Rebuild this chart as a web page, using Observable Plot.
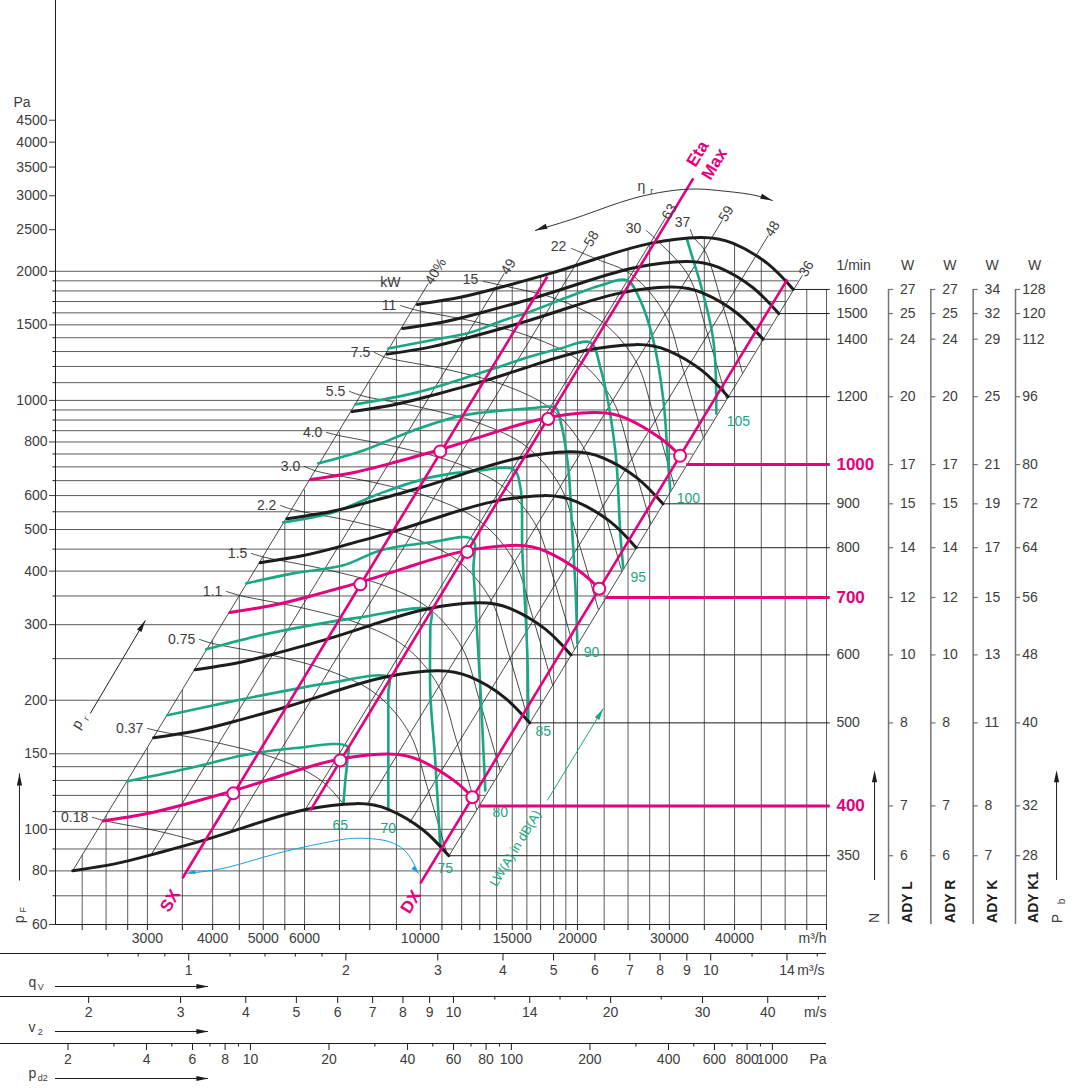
<!DOCTYPE html>
<html>
<head>
<meta charset="utf-8">
<script src="https://cdn.jsdelivr.net/npm/d3@7"></script>
<script src="https://cdn.jsdelivr.net/npm/@observablehq/plot@0.6"></script>
<style>
html,body{margin:0;padding:0;background:#fff;}
#chart{position:relative;width:1077px;height:1088px;}
#chart svg{position:absolute;left:0;top:0;overflow:visible;}
</style>
</head>
<body>
<div id="chart"></div>
<script>
// ---------------- data (flow q in m3/h, pressure p in Pa) ----------------
const hGrid = [70,80,90,100,110,120,130,140,150,200,250,300,350,400,450,500,550,600,650,700,750,800,850,900,950,1000,1100,1200,1300,1400,1500,1600,1700,1800,1900,2000];
const yTickLabels = [60,80,100,150,200,300,400,500,600,800,1000,1500,2000,2500,3000,3500,4000,4500];
const vGrid = [2250,2500,2750,3000,3500,4000,4500,5000,5500,6000,7000,8000,9000,10000,11000,12000,13000,14000,15000,16000,17000,18000,19000,20000,22500,25000,27500,30000,35000,40000,45000,50000,55000];
const xTickLabels = [3000,4000,5000,6000,8000,10000,15000,20000,30000,40000];

const fan1600 = [[9870,1674],[11930,1739],[14230,1834],[17750,1977],[22120,2154],[27580,2323],[34390,2399],[39780,2323],[46220,2086],[51830,1814]];
const fan1500 = [[9253,1471],[11184,1528],[13341,1612],[16641,1738],[20738,1893],[25856,2042],[32241,2109],[37294,2042],[43331,1833],[48591,1594]];
const fan1400 = [[8636,1282],[10439,1331],[12451,1404],[15531,1514],[19355,1649],[24133,1779],[30091,1837],[34808,1779],[40443,1597],[45351,1389]];
const fan1200 = [[7403,941.6],[8948,978.2],[10673,1031.6],[13313,1112],[16590,1212],[20685,1307],[25793,1349],[29835,1307],[34665,1173],[38873,1020]];
const fan1000 = [[6169,653.9],[7456,679.3],[8894,716.4],[11094,772.3],[13825,841.4],[17238,907.4],[21494,937.1],[24863,907.4],[28888,814.8],[31450,742.5]];
const fan900  = [[5552,529.7],[6711,550.2],[8004,580.3],[9984,625.5],[12443,681.5],[15514,735.0],[19344,759.1],[22376,735.0],[25999,660.0],[29154,574.0]];
const fan800  = [[4935,418.5],[5965,434.8],[7115,458.5],[8875,494.3],[11060,538.5],[13790,580.8],[17195,599.8],[19890,580.8],[23110,521.5],[25915,453.5]];
const fan700  = [[4318,320.4],[5219,332.9],[6226,351.0],[7766,378.4],[9678,412.3],[12066,444.6],[15046,459.2],[17404,444.6],[20221,399.3],[22015,363.8]];
const fan600  = [[3701,235.4],[4474,244.5],[5336,257.9],[6656,278.0],[8295,302.9],[10343,326.7],[12896,337.4],[14918,326.7],[17333,293.3],[19436,255.1]];
const fan500  = [[3084,163.5],[3728,169.8],[4447,179.1],[5547,193.1],[6913,210.4],[8619,226.9],[10747,234.3],[12431,226.9],[14444,203.7],[16197,177.1]];
const fan400  = [[2468,104.6],[2983,108.7],[3558,114.6],[4438,123.6],[5530,134.6],[6895,145.2],[8598,149.9],[9945,145.2],[11555,130.4],[12580,118.8]];
const fan350  = [[2159,80.1],[2610,83.2],[3113,87.8],[3883,94.6],[4839,103.1],[6033,111.2],[7523,114.8],[8702,111.2],[10111,99.8],[11338,86.8]];

const rpmList  = [1600,1500,1400,1200,1000,900,800,700,600,500,400,350];
const rpmEndQ  = [51830,48591,45351,38873,32394,29154,25915,22676,19436,16197,12958,11338];
const rpmEndP  = [1814,1594,1389,1020,708.6,574.0,453.5,347.2,255.1,177.1,113.4,86.8];
const rpmMagenta = [1000,700,400];
const adyL  = [27,25,24,20,17,15,14,12,10,8,7,6];
const adyR  = [27,25,24,20,17,15,14,12,10,8,7,6];
const adyK  = [34,32,29,25,21,19,17,15,13,11,8,7];
const adyK1 = [128,120,112,96,80,72,64,56,48,40,32,28];

const g65  = [[2746,129.4],[3674,139.5],[4581,148.8],[5710,154.5],[7247,156.1],[7247,144.8],[7183,130.1],[7120,114.4]];
const g70  = [[3276,184.4],[4268,197.7],[5323,208.6],[6634,218.9],[8683,226.1],[8683,207.5],[8683,144.8],[8683,111.9]];
const g75  = [[3890,262.8],[4937,283.3],[6157,298.9],[7675,312.0],[10450,324.0],[10450,295.8],[10450,207.5],[10680,144.8],[10920,90.8]];
const g80  = [[4642,374.5],[5710,395.1],[7120,412.5],[8381,446.9],[10450,466.7],[12580,474.3],[12640,401.5],[13030,214.3],[13320,123.3]];
const g85  = [[5464,519.5],[6723,545.3],[8381,607.1],[10450,661.5],[13030,686.9],[15080,690.7],[15550,627.0],[15680,446.9],[16030,257.2],[16100,179.6]];
const g90  = [[6374,713.2],[7777,764.6],[9696,851.1],[12090,922.7],[16240,957.9],[18140,961.3],[18540,898.2],[19200,698.1],[19550,489.8],[19820,366.6],[19990,271.4]];
const g95  = [[7507,978.8],[9868,1044],[12090,1125],[14230,1200],[16240,1266],[18540,1322],[21170,1365],[22120,1194],[23630,764.6],[24160,489.8],[24480,405.9]];
const g100 = [[8683,1322],[10450,1380],[12470,1440],[14230,1528],[16460,1621],[19120,1739],[22120,1854],[24920,1904],[26390,1711],[27950,1380],[29220,1000],[29870,698.1],[30130,616.9]];
const g105 = [[32470,2360],[33340,2120],[34390,1874],[36420,1380],[36900,932.6]];
const greenLabels = [["65",7026,102.2],["70",8683,100.5],["75",11166,81.1],["80",14230,109.6],["85",17200,169.2],["90",21270,258.5],["95",26160,386.8],["100",32620,591.0],["105",40670,893.8]];

const effLines = [["40%",2154,79.8,10360,1874],["49",3052,87.4,14480,1977],["58",4344,98.9,20890,2298],["63",6022,111.3,29460,2656],["59",7881,113.7,37880,2628],["48",9527,103.3,46420,2424],["36",11360,87.0,53930,1956]];
const magLines = [["SX",3500,76.9,17510,1945],["EtaMax",6157,110.7,33340,3292],["DX",10000,74.8,50480,1915]];
const circles = [[4383,121.3],[7675,372.5],[10920,760.5],[7026,144.8],[12300,443.4],[17565,905],[12580,118.8],[22015,363.8],[31450,742.5]];

// motor power lines (kW): leader start followed by the line itself
const kwLabels = [["0.18",2332,106.7],["0.37",2973,171.9],["0.75",3739,277.3],["1.1",4212,358.7],["1.5",4703,439.9],["2.2",5346,569.1],["3.0",5941,702.0],["4.0",6548,842.2],["5.5",7247,1050],["7.5",8091,1294],["11",9076,1665],["15",13030,1915],["22",19200,2286],["30",26740,2517],["37",33200,2599]];
const kw018 = [[2353,106.7],[2470,104.9],[3231,98.3],[4152,90.5]];
const kw037 = [[3000,171.9],[3142,169.6],[4108,158.9],[5281,146.4],[6501,129.1],[7544,104.3]];
const kw075 = [[3773,277.3],[3977,271.7],[5199,254.6],[6683,234.4],[8227,206.7],[9547,167.0],[10304,125.8],[11294,86.1]];
const kw110 = [[4250,358.7],[4518,350.7],[5908,328.7],[7593,302.6],[9347,266.8],[10846,215.5],[11706,162.3],[12828,111.1]];
const kw150 = [[4745,439.9],[5010,431.3],[6551,404.2],[8420,372.1],[10365,328.1],[12026,264.9],[12984,199.7],[14227,136.7]];
const kw220 = [[5394,569.1],[5692,556.7],[7443,521.8],[9566,480.3],[11777,423.6],[13663,342.0],[14751,257.7],[16166,176.5]];
const kw300 = [[5994,702.0],[6312,684.6],[8253,641.5],[10607,590.6],[13059,520.8],[15154,420.7],[16359,317.0],[17923,216.9]];
const kw400 = [[6607,842.2],[6947,829.4],[9084,777.2],[11676,715.6],[14372,630.8],[16680,509.7],[18005,384.0],[19732,262.9]];
const kw550 = [[7312,1050],[7725,1025.5],[10102,961.1],[12983,884.7],[15983,780.1],[18545,630.1],[20021,474.8],[21940,325.0]];
const kw750 = [[8164,1294],[8566,1261.0],[11201,1181.8],[14397,1087.9],[17723,959.2],[20566,774.9],[22199,583.7],[24329,399.7]];
const kw1100 = [[9158,1665],[9733,1627.8],[12727,1525.6],[16358,1404.5],[20136,1238.3],[23365,1000.2],[25222,753.5],[27641,515.9]];
const kw1500 = [[13205,1894],[14500,1848],[18139,1727.0],[22329,1522.6],[25913,1230.2],[27971,926.7],[30652,634.5]];
const kw2200 = [[19460,2262],[21730,2137],[25371,1965.8],[29438,1587.7],[31778,1196.2],[34825,818.9]];
const kw3000 = [[27100,2490],[28660,2337],[32645,1952.5],[35243,1471.3],[38619,1007.1]];
const kw3700 = [[32900,2503],[33410,2395],[35008,2245.4],[37795,1692.0],[41417,1158.3]];

const etaArc  = [[16610,2490],[20530,2699],[25590,2958],[31900,3103],[37070,3087],[42880,3021],[47240,2925]];
const cyanArc = [[3578,78.96],[4268,81.5],[5323,87.9],[6634,93.3],[7440,95.3],[8272,94.8],[8878,92.8],[9443,87.9],[9912,78.96]];

const qvMajor = [1,2,3,4,5,6,7,8,9,10,14];
const qvMinor = [0.7,0.8,0.9,1.2,1.4,1.6,1.8,12,16];
const v2Major = [2,3,4,5,6,7,8,9,10,14,20,30,40];
const v2Minor = [12,16,18,25,50];
const pdMajor = [2,4,6,8,10,20,40,60,80,100,200,400,600,800,1000];
const pdMinor = [3,5,7,9,30,50,70,90,300,500,700,900];

// ---------------- style ----------------
const FONT = "'Liberation Sans', Arial, Helvetica, sans-serif";
const INK="#1d1d1b", TXT="#3d3d3c", GRID="#4b4b4a", MAG="#e5007d", GRN="#19a784", CYAN="#1a9ee2", COL="#747473";
const VGRID="#4b4b4b", PWR="#1d1d1c";   // distinct strokes so the groups can be clipped
const X0=2000, X1=60000, Y0=60, Y1=8557;
const head  = {draw(c){c.moveTo(0,0);c.lineTo(2.6,12);c.lineTo(-2.6,12);c.closePath();}};
const headS = {draw(c){c.moveTo(0,0);c.lineTo(2.2,8);c.lineTo(-2.2,8);c.closePath();}};

// ---------------- tables for marks ----------------
const toRows = (key, list) => list.flatMap(([k, pts]) => pts.map(([q,p]) => ({[key]:k, q, p})));
const blackRows = toRows("n", [[1600,fan1600],[1500,fan1500],[1400,fan1400],[1200,fan1200],[900,fan900],[800,fan800],[600,fan600],[500,fan500],[350,fan350]]);
const magRows = toRows("n", [[1000,fan1000],[700,fan700],[400,fan400]]);
const greenRows = toRows("db", [[65,g65],[70,g70],[75,g75],[80,g80],[85,g85],[90,g90],[95,g95],[100,g100],[105,g105]]);
const powerRows = toRows("kw", [["0.18",kw018],["0.37",kw037],["0.75",kw075],["1.1",kw110],["1.5",kw150],["2.2",kw220],["3.0",kw300],["4.0",kw400],["5.5",kw550],["7.5",kw750],["11",kw1100],["15",kw1500],["22",kw2200],["30",kw3000],["37",kw3700]]);
const rpmRows = rpmList.map((n,i)=>({n, q:rpmEndQ[i], p:rpmEndP[i], m:rpmMagenta.includes(n)}));
const eff = effLines.map(([l,q1,p1,q2,p2])=>({l,q1,p1,q2,p2}));
const mag = magLines.map(([l,q1,p1,q2,p2])=>({l,q1,p1,q2,p2}));
const kwl = kwLabels.map(([t,q,p])=>({t,q,p}));
const A = (q,p,extra={}) => ({q,p,...extra});

const main = Plot.plot({
  width:1077, height:1088, marginLeft:55, marginRight:251, marginTop:0, marginBottom:164,
  style:{fontFamily:FONT, fontSize:"14px", background:"white"},
  x:{type:"log", domain:[X0,X1], axis:null},
  y:{type:"log", domain:[Y0,Y1], axis:null},
  marks:[
    Plot.ruleY(hGrid, {y:d=>d, x1:X0, x2:d=> d>=87 ? 11360*Math.sqrt(d/87) : X1, stroke:GRID, strokeWidth:0.9}),
    Plot.ruleX(vGrid, {x:d=>d, y1:Y0, y2:3000, stroke:VGRID, strokeWidth:0.9}),
    Plot.ruleX([X1], {y1:Y0, y2:1814, stroke:GRID, strokeWidth:0.9}),
    Plot.link(eff, {x1:"q1", y1:"p1", x2:"q2", y2:"p2", stroke:INK, strokeWidth:0.8}),
    Plot.line(powerRows, {x:"q", y:"p", z:"kw", curve:"catmull-rom", stroke:PWR, strokeWidth:0.8}),
    Plot.ruleY(rpmRows.filter(d=>!d.m), {y:"p", x1:"q", x2:61000, stroke:INK, strokeWidth:1}),
    Plot.line(greenRows, {x:"q", y:"p", z:"db", curve:"catmull-rom", stroke:GRN, strokeWidth:2.6}),
    Plot.line(blackRows, {x:"q", y:"p", z:"n", curve:"natural", stroke:INK, strokeWidth:3}),
    Plot.link(mag, {x1:"q1", y1:"p1", x2:"q2", y2:"p2", stroke:MAG, strokeWidth:2.6}),
    Plot.line(magRows, {x:"q", y:"p", z:"n", curve:"natural", stroke:MAG, strokeWidth:3}),
    Plot.ruleY(rpmRows.filter(d=>d.m), {y:"p", x1:"q", x2:61000, stroke:MAG, strokeWidth:3}),
    Plot.dot(circles.map(([q,p])=>({q,p})), {x:"q", y:"p", r:6, fill:"white", stroke:MAG, strokeWidth:2}),
    Plot.ruleX([X0], {y1:Y0, y2:Y1, stroke:INK, strokeWidth:1}),
    Plot.ruleY([Y0], {x1:X0, x2:X1, stroke:INK, strokeWidth:1}),
    Plot.axisY(yTickLabels, {tickSize:6, tickPadding:2, tickFormat:d=>String(d), fontSize:14, color:TXT}),
    Plot.axisY(hGrid.filter(d=>!yTickLabels.includes(d)), {tickSize:2.5, tickFormat:()=>"", color:INK}),
    Plot.axisX(vGrid.concat([X1]), {tickSize:6, tickFormat:()=>"", color:INK}),
    Plot.axisX(xTickLabels, {tickSize:0, tickPadding:9, tickFormat:d=>String(d), fontSize:14, color:TXT}),
    // arcs and arrows
    Plot.line(etaArc.map(([q,p])=>({q,p})), {x:"q", y:"p", curve:"natural", stroke:INK, strokeWidth:0.9}),
    Plot.line(cyanArc.map(([q,p])=>({q,p})), {x:"q", y:"p", curve:"natural", stroke:CYAN, strokeWidth:1}),
    Plot.link([A(1706,76.0,{q2:1706,p2:135.0}), A(2332,186.3,{q2:2973,p2:307.0})], {x1:"q", y1:"p", x2:"q2", y2:"p2", stroke:INK, strokeWidth:1}),
    Plot.link([A(17510,116.8,{q2:22420,p2:191.4})], {x1:"q", y1:"p", x2:"q2", y2:"p2", stroke:GRN, strokeWidth:1}),
    Plot.dot([A(1706,135.0,{r:0}), A(2973,307.0,{r:30.6}), A(16610,2490,{r:-110.6}), A(47240,2925,{r:110.6})], {x:"q", y:"p", rotate:"r", symbol:head, fill:INK, stroke:"none"}),
    Plot.dot([A(22420,191.4,{r:31.3})], {x:"q", y:"p", rotate:"r", symbol:head, fill:GRN, stroke:"none"}),
    Plot.dot([A(3578,78.96,{r:-100}), A(9912,78.96,{r:139})], {x:"q", y:"p", rotate:"r", symbol:headS, fill:CYAN, stroke:"none"}),
    // labels
    Plot.text(kwl, {x:"q", y:"p", text:"t", textAnchor:"end", dx:-2, fill:TXT, fontSize:14}),
    Plot.text([A(9156,1884)], {x:"q", y:"p", text:()=>"kW", textAnchor:"end", fill:TXT, fontSize:14}),
    Plot.text(eff, {x:"q2", y:"p2", text:"l", textAnchor:"start", rotate:-58.7, fill:TXT, fontSize:14}),
    Plot.text(greenLabels.map(([t,q,p])=>({t,q,p})), {x:"q", y:"p", text:"t", fill:GRN, fontSize:14}),
    Plot.text([A(3306,68.3,{t:"SX"}), A(9569,67.96,{t:"DX"}), A(35160,3665,{t:"Eta\nMax"})], {x:"q", y:"p", text:"t", rotate:-58.7, fill:MAG, fontWeight:"bold", fontSize:17, lineHeight:1.15}),
    Plot.text([A(15210,90.3)], {x:"q", y:"p", text:()=>"LW(A) in dB(A)", rotate:-58.7, fill:GRN, fontSize:13}),
    Plot.text([A(1661,4951)], {x:"q", y:"p", text:()=>"Pa", textAnchor:"start", fill:TXT, fontSize:14}),
    Plot.text([A(1706,60.4)], {x:"q", y:"p", text:()=>"p", rotate:-90, textAnchor:"start", fill:TXT, fontSize:14}),
    Plot.text([A(1736,64.0)], {x:"q", y:"p", text:()=>"F", rotate:-90, textAnchor:"start", fill:TXT, fontSize:9}),
    Plot.text([A(26510,3154)], {x:"q", y:"p", text:()=>"η", fill:TXT, fontSize:14}),
    Plot.text([A(27580,3071)], {x:"q", y:"p", text:()=>"r", textAnchor:"start", fill:TXT, fontSize:9}),
    Plot.text([A(2202,175.7)], {x:"q", y:"p", text:()=>"p", rotate:-58.7, fill:TXT, fontSize:14}),
    Plot.text([A(2292,181.4)], {x:"q", y:"p", text:()=>"r", rotate:-58.7, fill:TXT, fontSize:9})
  ]
});

// clip paths built from the plot's own scales
const sx = main.scale("x"), sy = main.scale("y");
const pt = ([q,p]) => [sx.apply(q), sy.apply(p)];
const natural = d3.line().curve(d3.curveNatural);
function addClip(svg, id, d, stroke){
  const ns="http://www.w3.org/2000/svg";
  const defs=document.createElementNS(ns,"defs");
  const cp=document.createElementNS(ns,"clipPath"); cp.setAttribute("id",id);
  cp.setAttribute("clipPathUnits","userSpaceOnUse");
  const path=document.createElementNS(ns,"path"); path.setAttribute("d",d);
  cp.appendChild(path); defs.appendChild(cp); svg.insertBefore(defs, svg.firstChild);
  svg.querySelectorAll("g").forEach(g=>{ if ((g.getAttribute("stroke")||"").toLowerCase()===stroke) g.setAttribute("clip-path",`url(#${id})`); });
}
{
  const topD = natural(fan1600.map(pt));
  const a = pt([1868,60]), e = pt([60000,1814]), b = pt([60000,60]);
  addClip(main, "clipV", `M${a}L${topD.slice(1)}L${e}L${b}Z`, VGRID);
  const botRev = natural(fan350.slice().reverse().map(pt));
  const t = pt([112660,Y1]), s = pt([2159,80.1]);
  addClip(main, "clipP", `M0,0L${t[0]},0L${botRev.slice(1)}L0,${s[1]}Z`, PWR);
}

// ---------------- bottom scale rows ----------------
const toQ_qv = d=>d*3600, toQ_v = d=>d*1157.5, toQ_pd = d=>1157.5*Math.sqrt(d/0.6);
const rows = Plot.plot({
  width:1077, height:1088, marginLeft:55, marginRight:251, marginTop:924, marginBottom:0,
  style:{fontFamily:FONT, fontSize:"14px", background:"transparent"},
  x:{type:"log", domain:[X0,X1], axis:null},
  y:{type:"linear", domain:[0,164], range:[924,1088], axis:null},
  marks:[
    Plot.text(["m³/h"], {x:X1, y:14, text:d=>d, textAnchor:"end", fill:TXT, fontSize:14}),
    Plot.ruleY([29,72,119], {x1:1568, x2:X1, stroke:INK, strokeWidth:1}),
    Plot.ruleX(qvMajor, {x:toQ_qv, y1:29, y2:36.5, stroke:INK}),
    Plot.ruleX(qvMinor, {x:toQ_qv, y1:29, y2:32.5, stroke:INK}),
    Plot.text(qvMajor, {x:toQ_qv, y:46, text:d=>String(d), fill:TXT, fontSize:14}),
    Plot.text(["m³/s"], {x:52750, y:46, text:d=>d, textAnchor:"start", fill:TXT, fontSize:14}),
    Plot.ruleX(v2Major, {x:toQ_v, y1:72, y2:79, stroke:INK}),
    Plot.ruleX(v2Minor, {x:toQ_v, y1:72, y2:75.5, stroke:INK}),
    Plot.text(v2Major, {x:toQ_v, y:88, text:d=>String(d), fill:TXT, fontSize:14}),
    Plot.text(["m/s"], {x:X1, y:88, text:d=>d, textAnchor:"end", fill:TXT, fontSize:14}),
    Plot.ruleX(pdMajor, {x:toQ_pd, y1:119, y2:126, stroke:INK}),
    Plot.ruleX(pdMinor, {x:toQ_pd, y1:119, y2:122.5, stroke:INK}),
    Plot.text(pdMajor, {x:toQ_pd, y:135, text:d=>String(d), fill:TXT, fontSize:14}),
    Plot.text(["Pa"], {x:X1, y:135, text:d=>d, textAnchor:"end", fill:TXT, fontSize:14}),
    Plot.ruleY([62,107,154], {x1:X0, x2:3926, stroke:INK, strokeWidth:1}),
    Plot.dot([62,107,154], {x:3926, y:d=>d, rotate:90, symbol:head, fill:INK, stroke:"none"}),
    Plot.text(["q","v","p"], {x:1775, y:d=>({q:58,v:103,p:149})[d], text:d=>d, textAnchor:"start", fill:TXT, fontSize:14}),
    Plot.text(["V","2","d2"], {x:1850, y:d=>({V:63,"2":108,d2:154})[d], text:d=>d, textAnchor:"start", fill:TXT, fontSize:9})
  ]
});

// ---------------- right-hand speed / power table ----------------
const cols = [[1,adyL],[2,adyR],[3,adyK],[4,adyK1]];
const cells = cols.flatMap(([c,vals]) => vals.map((v,i)=>({c, v:String(v), p:rpmEndP[i]})));
const table = Plot.plot({
  width:1077, height:1088, marginLeft:845.7, marginRight:62, marginTop:0, marginBottom:164,
  style:{fontFamily:FONT, fontSize:"14px", background:"transparent"},
  x:{type:"linear", domain:[0,4], axis:null},
  y:{type:"log", domain:[Y0,Y1], axis:null},
  marks:[
    Plot.ruleX([1,2,3,4], {y1:Y0, y2:1814, stroke:COL, strokeWidth:1.5}),
    Plot.ruleY(cells, {y:"p", x1:"c", x2:d=>d.c+0.12, stroke:COL, strokeWidth:1.2}),
    Plot.text(cells, {x:d=>d.c+(d.c===4?0.16:0.27), y:"p", text:"v", textAnchor:"start", fill:TXT, fontSize:14}),
    Plot.text(rpmRows.filter(d=>!d.m), {x:-0.23, y:"p", text:d=>String(d.n), textAnchor:"start", fill:TXT, fontSize:14}),
    Plot.text(rpmRows.filter(d=>d.m), {x:-0.23, y:"p", text:d=>String(d.n), textAnchor:"start", fill:MAG, fontWeight:"bold", fontSize:17}),
    Plot.text(["1/min"], {x:-0.23, y:2064, text:d=>d, textAnchor:"start", fill:TXT, fontSize:14}),
    Plot.text([1,2,3,4], {x:d=>d+0.45, y:2064, text:()=>"W", fill:TXT, fontSize:14}),
    Plot.text([{t:"N",x:0.67}], {x:"x", y:60.5, text:"t", rotate:-90, textAnchor:"start", fill:TXT, fontSize:14}),
    Plot.text([{t:"ADY L",x:1.45},{t:"ADY R",x:2.46},{t:"ADY K",x:3.45},{t:"ADY K1",x:4.43}], {x:"x", y:60.5, text:"t", rotate:-90, textAnchor:"start", fill:INK, fontWeight:"bold", fontSize:14}),
    Plot.text([{t:"P",x:4.99}], {x:"x", y:60.4, text:"t", rotate:-90, textAnchor:"start", fill:TXT, fontSize:14}),
    Plot.text([{t:"b",x:5.09}], {x:"x", y:66.9, text:"t", rotate:-90, textAnchor:"start", fill:TXT, fontSize:10}),
    Plot.ruleX([0.67,4.97], {y1:76.0, y2:135, stroke:INK, strokeWidth:1}),
    Plot.dot([0.67,4.97], {x:d=>d, y:137.3, symbol:head, fill:INK, stroke:"none"})
  ]
});

const root = document.getElementById("chart");
root.appendChild(main);
root.appendChild(rows);
root.appendChild(table);
</script>
</body>
</html>
